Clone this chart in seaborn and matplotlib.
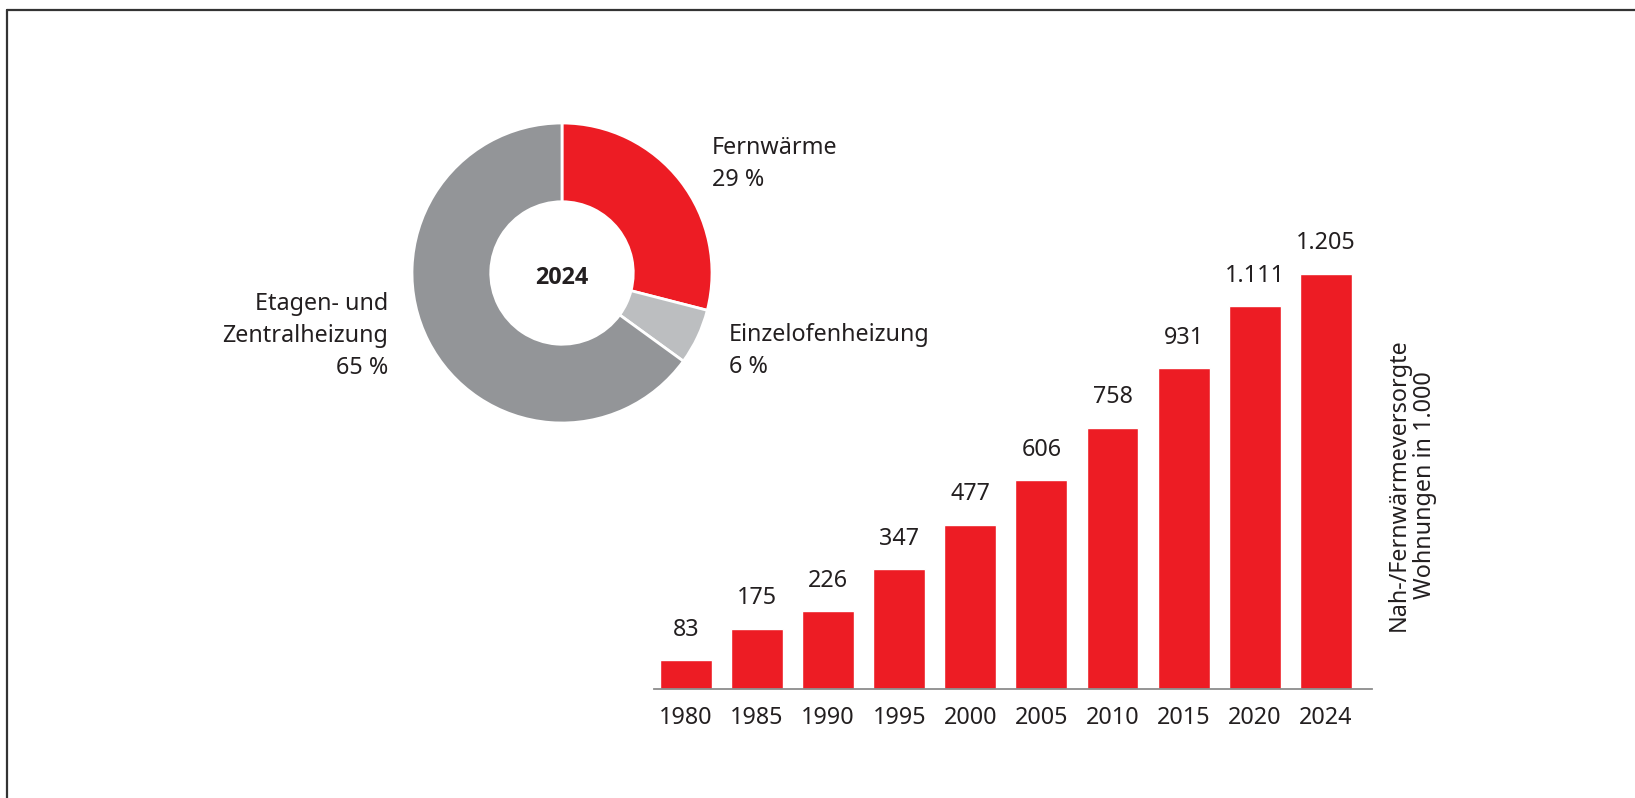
import matplotlib
matplotlib.use("Agg")
import matplotlib.pyplot as plt
from matplotlib.lines import Line2D
import pandas as pd
import seaborn as sns

# donut data (share in 2024)
shares_labels = ["Fernwärme", "Einzelofenheizung", "Etagen- und\nZentralheizung"]
shares = [29, 6, 65]
share_colors = ["#ED1C24", "#BCBEC0", "#939598"]

# bar data
years = ["1980", "1985", "1990", "1995", "2000", "2005", "2010", "2015", "2020", "2024"]
households = [83, 175, 226, 347, 477, 606, 758, 931, 1111, 1205]

RED = "#ED1C24"
TXT = "#231F20"
W, H = 1635, 798
FS = 16.8

sns.set_theme(style="white")
plt.rcParams["font.family"] = ["Noto Sans", "DejaVu Sans"]

fig = plt.figure(figsize=(W / 100, H / 100), dpi=100)
fig.patch.set_facecolor("white")

# frame lines (top and left)
fig.add_artist(Line2D([7 / W, 1], [1 - 10 / H, 1 - 10 / H], color="#333333", lw=1.6))
fig.add_artist(Line2D([7 / W, 7 / W], [0, 1 - 10 / H], color="#333333", lw=1.6))

# ---- bars ----
base_y = 689
px_per_unit = 415 / 1205
ymax = 1300
x0 = 654
x1 = 1372
ax2 = fig.add_axes([x0 / W, (H - base_y) / H, (x1 - x0) / W, ymax * px_per_unit / H])
ax2.patch.set_alpha(0)
df = pd.DataFrame({"Jahr": years, "Wohnungen": households})
sns.barplot(data=df, x="Jahr", y="Wohnungen", color=RED, saturation=1,
            width=0.73, ax=ax2)
ax2.set_xlim(-0.45, 9.65)
ax2.set_ylim(0, ymax)
for s in ["top", "right", "left"]:
    ax2.spines[s].set_visible(False)
ax2.spines["bottom"].set_color("#8C8C8C")
ax2.spines["bottom"].set_linewidth(1.3)
ax2.set_yticks([])
ax2.set_xlabel("")
ax2.set_ylabel("")
ax2.tick_params(axis="x", length=0, pad=12, labelsize=FS, labelcolor=TXT)

for i, v in enumerate(households):
    lab = f"{v:,}".replace(",", ".")
    ax2.annotate(lab, (i, v), xytext=(0, 22), textcoords="offset points",
                 ha="center", va="center", fontsize=FS, color=TXT,
                 annotation_clip=False)

# ---- donut ----
cx, cy, r = 562, 273, 150
ax1 = fig.add_axes([(cx - r) / W, (H - cy - r) / H, 2 * r / W, 2 * r / H])
ax1.set_zorder(5)
ax1.pie(shares, colors=share_colors, startangle=90, counterclock=False,
        radius=1, wedgeprops=dict(width=0.525, edgecolor="white", linewidth=2))
ax1.set_xlim(-1, 1)
ax1.set_ylim(-1, 1)
ax1.set_aspect("equal")
ax1.axis("off")
ax1.text(0, -0.03, "2024", ha="center", va="center", fontsize=FS,
         fontweight="bold", color=TXT, family=["Open Sans", "DejaVu Sans"])

fig.text(712 / W, 1 - 164 / H, f"{shares_labels[0]}\n{shares[0]} %",
         ha="left", va="center", fontsize=FS, color=TXT, linespacing=1.45)
fig.text(729 / W, 1 - 351 / H, f"{shares_labels[1]}\n{shares[1]} %",
         ha="left", va="center", fontsize=FS, color=TXT, linespacing=1.45)
fig.text(388 / W, 1 - 336 / H, f"{shares_labels[2]}\n{shares[2]} %",
         ha="right", va="center", fontsize=FS, color=TXT, linespacing=1.45,
         multialignment="right")

fig.text(1412 / W, 1 - 485 / H, "Nah-/Fernwärmeversorgte\nWohnungen in 1.000",
         rotation=90, ha="center", va="center", fontsize=FS, color=TXT,
         multialignment="center", linespacing=1.15)

fig.savefig("out.png", dpi=100, facecolor="white")
